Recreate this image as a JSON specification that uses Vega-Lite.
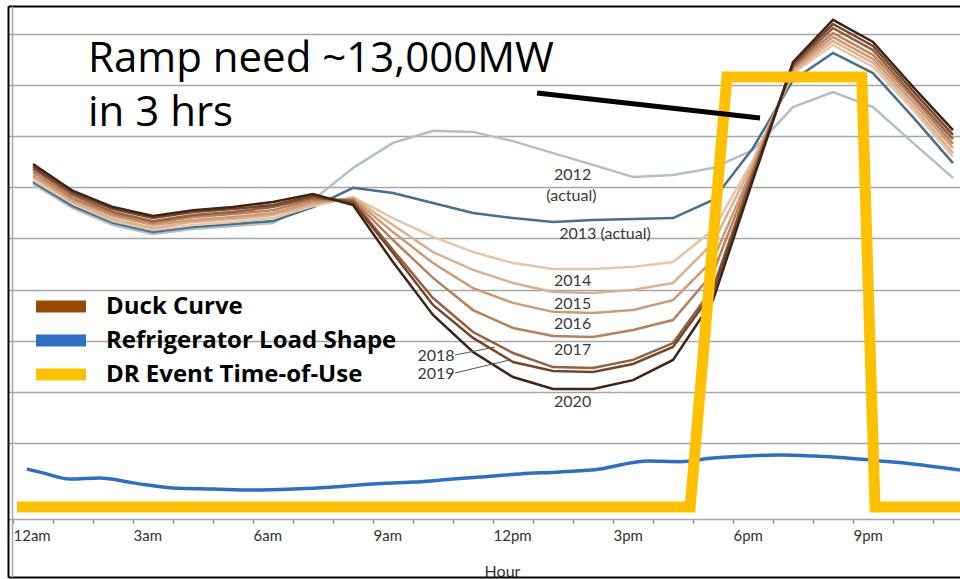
{
  "$schema": "https://vega.github.io/schema/vega-lite/v6.json",
  "width": 952,
  "height": 571,
  "autosize": {"type": "none"},
  "padding": {"left": 8, "top": 6, "right": 0, "bottom": 2},
  "background": "white",
  "config": {"view": {"stroke": null}, "font": "Lato"},
  "datasets": {
    "duck": [
      {"hour": 0.5, "2012": 22130, "2013": 22210, "2014": 22290, "2015": 22410, "2016": 22480, "2017": 22600, "2018": 22720, "2019": 22800, "2020": 22910},
      {"hour": 1.5, "2012": 21190, "2013": 21270, "2014": 21350, "2015": 21430, "2016": 21510, "2017": 21580, "2018": 21700, "2019": 21780, "2020": 21860},
      {"hour": 2.5, "2012": 20530, "2013": 20610, "2014": 20680, "2015": 20760, "2016": 20880, "2017": 20960, "2018": 21040, "2019": 21150, "2020": 21230},
      {"hour": 3.5, "2012": 20180, "2013": 20250, "2014": 20330, "2015": 20410, "2016": 20530, "2017": 20610, "2018": 20680, "2019": 20800, "2020": 20880},
      {"hour": 4.5, "2012": 20370, "2013": 20450, "2014": 20530, "2015": 20650, "2016": 20720, "2017": 20840, "2018": 20920, "2019": 21040, "2020": 21110},
      {"hour": 5.5, "2012": 20490, "2013": 20570, "2014": 20650, "2015": 20760, "2016": 20840, "2017": 20960, "2018": 21040, "2019": 21150, "2020": 21230},
      {"hour": 6.5, "2012": 20610, "2013": 20680, "2014": 20800, "2015": 20920, "2016": 21000, "2017": 21110, "2018": 21230, "2019": 21310, "2020": 21430},
      {"hour": 7.5, "2012": 21510, "2013": 21230, "2014": 21270, "2015": 21350, "2016": 21430, "2017": 21510, "2018": 21580, "2019": 21660, "2020": 21740},
      {"hour": 8.5, "2012": 22760, "2013": 21980, "2014": 21620, "2015": 21580, "2016": 21550, "2017": 21510, "2018": 21470, "2019": 21390, "2020": 21310},
      {"hour": 9.5, "2012": 23740, "2013": 21780, "2014": 20800, "2015": 20530, "2016": 20250, "2017": 19940, "2018": 19550, "2019": 19430, "2020": 19080},
      {"hour": 10.5, "2012": 24210, "2013": 21390, "2014": 20060, "2015": 19470, "2016": 19040, "2017": 18460, "2018": 17670, "2019": 17400, "2020": 17010},
      {"hour": 11.5, "2012": 24170, "2013": 21000, "2014": 19470, "2015": 18770, "2016": 18060, "2017": 17200, "2018": 16340, "2019": 16110, "2020": 15560},
      {"hour": 12.5, "2012": 23810, "2013": 20800, "2014": 19040, "2015": 18260, "2016": 17480, "2017": 16500, "2018": 15520, "2019": 15170, "2020": 14580},
      {"hour": 13.5, "2012": 23340, "2013": 20650, "2014": 18810, "2015": 17910, "2016": 17130, "2017": 16190, "2018": 14970, "2019": 14820, "2020": 14110},
      {"hour": 14.5, "2012": 22880, "2013": 20720, "2014": 18810, "2015": 17870, "2016": 17090, "2017": 16150, "2018": 14930, "2019": 14780, "2020": 14110},
      {"hour": 15.5, "2012": 22410, "2013": 20760, "2014": 18890, "2015": 17990, "2016": 17200, "2017": 16420, "2018": 15250, "2019": 15090, "2020": 14460},
      {"hour": 16.5, "2012": 22480, "2013": 20800, "2014": 19080, "2015": 18260, "2016": 17590, "2017": 16810, "2018": 15910, "2019": 15760, "2020": 15250},
      {"hour": 17.5, "2012": 22760, "2013": 21510, "2014": 20330, "2015": 19820, "2016": 19160, "2017": 18650, "2018": 18060, "2019": 17910, "2020": 17590},
      {"hour": 18.5, "2012": 23460, "2013": 23540, "2014": 23070, "2015": 22950, "2016": 22800, "2017": 22680, "2018": 22560, "2019": 22410, "2020": 22290},
      {"hour": 19.5, "2012": 25140, "2013": 26200, "2014": 26470, "2015": 26550, "2016": 26630, "2017": 26710, "2018": 26750, "2019": 26830, "2020": 26900},
      {"hour": 20.5, "2012": 25730, "2013": 27260, "2014": 27570, "2015": 27730, "2016": 27880, "2017": 28040, "2018": 28230, "2019": 28390, "2020": 28550},
      {"hour": 21.5, "2012": 25140, "2013": 26470, "2014": 26710, "2015": 26870, "2016": 27020, "2017": 27180, "2018": 27370, "2019": 27530, "2020": 27690},
      {"hour": 22.5, "2012": 23740, "2013": 24750, "2014": 25030, "2015": 25180, "2016": 25340, "2017": 25500, "2018": 25610, "2019": 25770, "2020": 25930},
      {"hour": 23.5, "2012": 22370, "2013": 22950, "2014": 23190, "2015": 23340, "2016": 23540, "2017": 23700, "2018": 23890, "2019": 24050, "2020": 24240}
    ],
    "fridge": [
      {"hour": 0.35, "mw": 10980, "series": "Refrigerator Load Shape"},
      {"hour": 0.75, "mw": 10830, "series": "Refrigerator Load Shape"},
      {"hour": 1.425, "mw": 10590, "series": "Refrigerator Load Shape"},
      {"hour": 2.175, "mw": 10630, "series": "Refrigerator Load Shape"},
      {"hour": 3, "mw": 10440, "series": "Refrigerator Load Shape"},
      {"hour": 4, "mw": 10240, "series": "Refrigerator Load Shape"},
      {"hour": 5, "mw": 10200, "series": "Refrigerator Load Shape"},
      {"hour": 6, "mw": 10160, "series": "Refrigerator Load Shape"},
      {"hour": 7, "mw": 10200, "series": "Refrigerator Load Shape"},
      {"hour": 8, "mw": 10280, "series": "Refrigerator Load Shape"},
      {"hour": 9, "mw": 10400, "series": "Refrigerator Load Shape"},
      {"hour": 10, "mw": 10470, "series": "Refrigerator Load Shape"},
      {"hour": 11, "mw": 10590, "series": "Refrigerator Load Shape"},
      {"hour": 11.675, "mw": 10670, "series": "Refrigerator Load Shape"},
      {"hour": 12.675, "mw": 10790, "series": "Refrigerator Load Shape"},
      {"hour": 13.675, "mw": 10870, "series": "Refrigerator Load Shape"},
      {"hour": 14.675, "mw": 10980, "series": "Refrigerator Load Shape"},
      {"hour": 15.175, "mw": 11140, "series": "Refrigerator Load Shape"},
      {"hour": 15.85, "mw": 11300, "series": "Refrigerator Load Shape"},
      {"hour": 16.675, "mw": 11270, "series": "Refrigerator Load Shape"},
      {"hour": 17.5, "mw": 11410, "series": "Refrigerator Load Shape"},
      {"hour": 18.35, "mw": 11490, "series": "Refrigerator Load Shape"},
      {"hour": 19.175, "mw": 11530, "series": "Refrigerator Load Shape"},
      {"hour": 20, "mw": 11490, "series": "Refrigerator Load Shape"},
      {"hour": 20.85, "mw": 11410, "series": "Refrigerator Load Shape"},
      {"hour": 21.675, "mw": 11300, "series": "Refrigerator Load Shape"},
      {"hour": 22.5, "mw": 11180, "series": "Refrigerator Load Shape"},
      {"hour": 23.675, "mw": 10940, "series": "Refrigerator Load Shape"}
    ],
    "dr": [
      {"hour": 0.1, "mw": 9500, "series": "DR Event Time-of-Use"},
      {"hour": 16.93, "mw": 9500, "series": "DR Event Time-of-Use"},
      {"hour": 17.85, "mw": 26320, "series": "DR Event Time-of-Use"},
      {"hour": 21.22, "mw": 26320, "series": "DR Event Time-of-Use"},
      {"hour": 21.55, "mw": 9500, "series": "DR Event Time-of-Use"},
      {"hour": 23.675, "mw": 9500, "series": "DR Event Time-of-Use"}
    ],
    "pointer": [
      {"hour": 13.1, "mw": 25690, "hour2": 18.675, "mw2": 24710}
    ],
    "leaders": [
      {"hour": 11.05, "mw": 15440, "hour2": 12.05, "mw2": 15755},
      {"hour": 11.05, "mw": 14740, "hour2": 12.425, "mw2": 15250}
    ],
    "notes": [
      {"hour": 1.875, "mw": 26510, "label": "Ramp need ~13,000MW"},
      {"hour": 1.875, "mw": 24400, "label": "in 3 hrs"}
    ],
    "yearLabels": [
      {"hour": 13.99, "mw": 22500, "label": "2012"},
      {"hour": 13.96, "mw": 21680, "label": "(actual)"},
      {"hour": 14.8, "mw": 20160, "label": "2013 (actual)"},
      {"hour": 13.99, "mw": 18318, "label": "2014"},
      {"hour": 13.99, "mw": 17420, "label": "2015"},
      {"hour": 13.99, "mw": 16655, "label": "2016"},
      {"hour": 13.99, "mw": 15638, "label": "2017"},
      {"hour": 13.99, "mw": 13604, "label": "2020"},
      {"hour": 10.575, "mw": 15400, "label": "2018"},
      {"hour": 10.575, "mw": 14700, "label": "2019"}
    ]
  },
  "resolve": {"axis": {"x": "independent", "y": "independent"}},
  "layer": [
    {
      "data": {"name": "duck"},
      "transform": [{"fold": ["2012", "2013", "2014", "2015", "2016", "2017", "2018", "2019", "2020"], "as": ["series", "mw"]}],
      "mark": {"type": "line", "strokeWidth": 2.5},
      "encoding": {
        "x": {
          "field": "hour", "type": "quantitative",
          "scale": {"domain": [-0.125, 23.675], "nice": false, "zero": false},
          "axis": {
            "orient": "bottom", "offset": -58,
            "values": [0, 1, 2, 3, 4, 5, 6, 7, 8, 9, 10, 11, 12, 13, 14, 15, 16, 17, 18, 19, 20, 21, 22, 23],
            "labelExpr": "datum.value % 3 != 0 ? '' : datum.value == 0 ? '12am' : datum.value < 12 ? datum.value + 'am' : datum.value == 12 ? '12pm' : (datum.value - 12) + 'pm'",
            "labelAlign": "left", "labelFont": "Lato", "labelFontSize": 15, "labelColor": "#333333",
            "labelPadding": 5, "labelOverlap": false, "labelFlush": false,
            "domainColor": "#a6a6a6", "domainWidth": 1.5,
            "tickColor": "#8c8c8c", "tickSize": 4, "tickWidth": 1.5,
            "grid": false,
            "title": "Hour", "titleFont": "Lato", "titleFontSize": 16, "titleFontWeight": "normal",
            "titleColor": "#333333", "titleX": 494, "titleY": 44, "titleBaseline": "top", "titleAlign": "center"
          }
        },
        "y": {
          "field": "mw", "type": "quantitative",
          "scale": {"domain": [6758, 29095], "nice": false, "zero": false},
          "axis": {
            "orient": "left", "offset": -4,
            "values": [12000, 14000, 16000, 18000, 20000, 22000, 24000, 26000, 28000],
            "grid": true, "gridColor": "#a6a6a6", "gridWidth": 1.5,
            "labels": false, "ticks": false,
            "domain": true, "domainColor": "#a6a6a6", "domainWidth": 1.5,
            "title": null
          }
        },
        "color": {
          "field": "series", "type": "nominal",
          "scale": {
            "domain": ["2012", "2013", "2014", "2015", "2016", "2017", "2018", "2019", "2020", "Duck Curve", "Refrigerator Load Shape", "DR Event Time-of-Use"],
            "range": ["#b2bec8", "#48708a", "#e6c6a8", "#dbb08f", "#cd9a76", "#b9805a", "#94603f", "#74452a", "#3d2417", "#964B00", "#2f6fc2", "#FFC000"]
          },
          "legend": {
            "values": ["Duck Curve", "Refrigerator Load Shape", "DR Event Time-of-Use"],
            "title": null, "orient": "none", "legendX": 22, "legendY": 285.5,
            "symbolType": "stroke", "symbolSize": 2500, "symbolStrokeWidth": 12,
            "labelFont": "Open Sans", "labelFontSize": 24, "labelFontWeight": "bold", "labelColor": "#000000",
            "labelOffset": 14, "labelLimit": 0, "rowPadding": 4, "clipHeight": 30, "padding": 0,
            "encode": {"symbols": {"update": {"strokeWidth": {"value": 12}, "opacity": {"value": 1}, "strokeCap": {"value": "butt"}}}}
          }
        }
      }
    },
    {
      "data": {"name": "fridge"},
      "mark": {"type": "line", "strokeWidth": 3.5, "interpolate": "monotone"},
      "encoding": {
        "x": {
          "field": "hour", "type": "quantitative",
          "scale": {"domain": [-0.125, 23.675], "nice": false, "zero": false},
          "axis": {"orient": "top", "domain": true, "domainColor": "#000000", "domainWidth": 2, "labels": false, "ticks": false, "grid": false, "title": null}
        },
        "y": {
          "field": "mw", "type": "quantitative",
          "scale": {"domain": [6758, 29095], "nice": false, "zero": false},
          "axis": {"orient": "left", "domain": true, "domainColor": "#000000", "domainWidth": 2, "labels": false, "ticks": false, "grid": false, "title": null}
        },
        "color": {
          "field": "series", "type": "nominal",
          "scale": {
            "domain": ["2012", "2013", "2014", "2015", "2016", "2017", "2018", "2019", "2020", "Duck Curve", "Refrigerator Load Shape", "DR Event Time-of-Use"],
            "range": ["#b2bec8", "#48708a", "#e6c6a8", "#dbb08f", "#cd9a76", "#b9805a", "#94603f", "#74452a", "#3d2417", "#964B00", "#2f6fc2", "#FFC000"]
          },
          "legend": {
            "values": ["Duck Curve", "Refrigerator Load Shape", "DR Event Time-of-Use"],
            "title": null, "orient": "none", "legendX": 22, "legendY": 285.5,
            "symbolType": "stroke", "symbolSize": 2500, "symbolStrokeWidth": 12,
            "labelFont": "Open Sans", "labelFontSize": 24, "labelFontWeight": "bold", "labelColor": "#000000",
            "labelOffset": 14, "labelLimit": 0, "rowPadding": 4, "clipHeight": 30, "padding": 0,
            "encode": {"symbols": {"update": {"strokeWidth": {"value": 12}, "opacity": {"value": 1}, "strokeCap": {"value": "butt"}}}}
          }
        }
      }
    },
    {
      "data": {"name": "dr"},
      "mark": {"type": "line", "strokeWidth": 11, "strokeJoin": "miter", "strokeCap": "butt"},
      "encoding": {
        "x": {
          "field": "hour", "type": "quantitative",
          "scale": {"domain": [-0.125, 23.675], "nice": false, "zero": false},
          "axis": {"orient": "bottom", "domain": true, "domainColor": "#000000", "domainWidth": 2, "labels": false, "ticks": false, "grid": false, "title": null}
        },
        "y": {"field": "mw", "type": "quantitative", "scale": {"domain": [6758, 29095], "nice": false, "zero": false}, "axis": null},
        "color": {
          "field": "series", "type": "nominal",
          "scale": {
            "domain": ["2012", "2013", "2014", "2015", "2016", "2017", "2018", "2019", "2020", "Duck Curve", "Refrigerator Load Shape", "DR Event Time-of-Use"],
            "range": ["#b2bec8", "#48708a", "#e6c6a8", "#dbb08f", "#cd9a76", "#b9805a", "#94603f", "#74452a", "#3d2417", "#964B00", "#2f6fc2", "#FFC000"]
          },
          "legend": {
            "values": ["Duck Curve", "Refrigerator Load Shape", "DR Event Time-of-Use"],
            "title": null, "orient": "none", "legendX": 22, "legendY": 285.5,
            "symbolType": "stroke", "symbolSize": 2500, "symbolStrokeWidth": 12,
            "labelFont": "Open Sans", "labelFontSize": 24, "labelFontWeight": "bold", "labelColor": "#000000",
            "labelOffset": 14, "labelLimit": 0, "rowPadding": 4, "clipHeight": 30, "padding": 0,
            "encode": {"symbols": {"update": {"strokeWidth": {"value": 12}, "opacity": {"value": 1}, "strokeCap": {"value": "butt"}}}}
          }
        }
      }
    },
    {
      "data": {"name": "pointer"},
      "mark": {"type": "rule", "strokeWidth": 5, "color": "#000000"},
      "encoding": {
        "x": {"field": "hour", "type": "quantitative", "scale": {"domain": [-0.125, 23.675], "nice": false, "zero": false}, "axis": null},
        "y": {"field": "mw", "type": "quantitative", "scale": {"domain": [6758, 29095], "nice": false, "zero": false}, "axis": null},
        "x2": {"field": "hour2"},
        "y2": {"field": "mw2"}
      }
    },
    {
      "data": {"name": "leaders"},
      "mark": {"type": "rule", "strokeWidth": 1, "color": "#555555"},
      "encoding": {
        "x": {"field": "hour", "type": "quantitative", "scale": {"domain": [-0.125, 23.675], "nice": false, "zero": false}, "axis": null},
        "y": {"field": "mw", "type": "quantitative", "scale": {"domain": [6758, 29095], "nice": false, "zero": false}, "axis": null},
        "x2": {"field": "hour2"},
        "y2": {"field": "mw2"}
      }
    },
    {
      "data": {"name": "yearLabels"},
      "mark": {"type": "text", "font": "Lato", "fontSize": 16, "color": "#3a3a3a", "align": "center", "baseline": "middle"},
      "encoding": {
        "x": {"field": "hour", "type": "quantitative", "scale": {"domain": [-0.125, 23.675], "nice": false, "zero": false}, "axis": null},
        "y": {"field": "mw", "type": "quantitative", "scale": {"domain": [6758, 29095], "nice": false, "zero": false}, "axis": null},
        "text": {"field": "label"}
      }
    },
    {
      "data": {"name": "notes"},
      "mark": {"type": "text", "font": "Open Sans", "fontSize": 42, "color": "#000000", "align": "left", "baseline": "alphabetic"},
      "encoding": {
        "x": {"field": "hour", "type": "quantitative", "scale": {"domain": [-0.125, 23.675], "nice": false, "zero": false}, "axis": null},
        "y": {"field": "mw", "type": "quantitative", "scale": {"domain": [6758, 29095], "nice": false, "zero": false}, "axis": null},
        "text": {"field": "label"}
      }
    }
  ]
}
